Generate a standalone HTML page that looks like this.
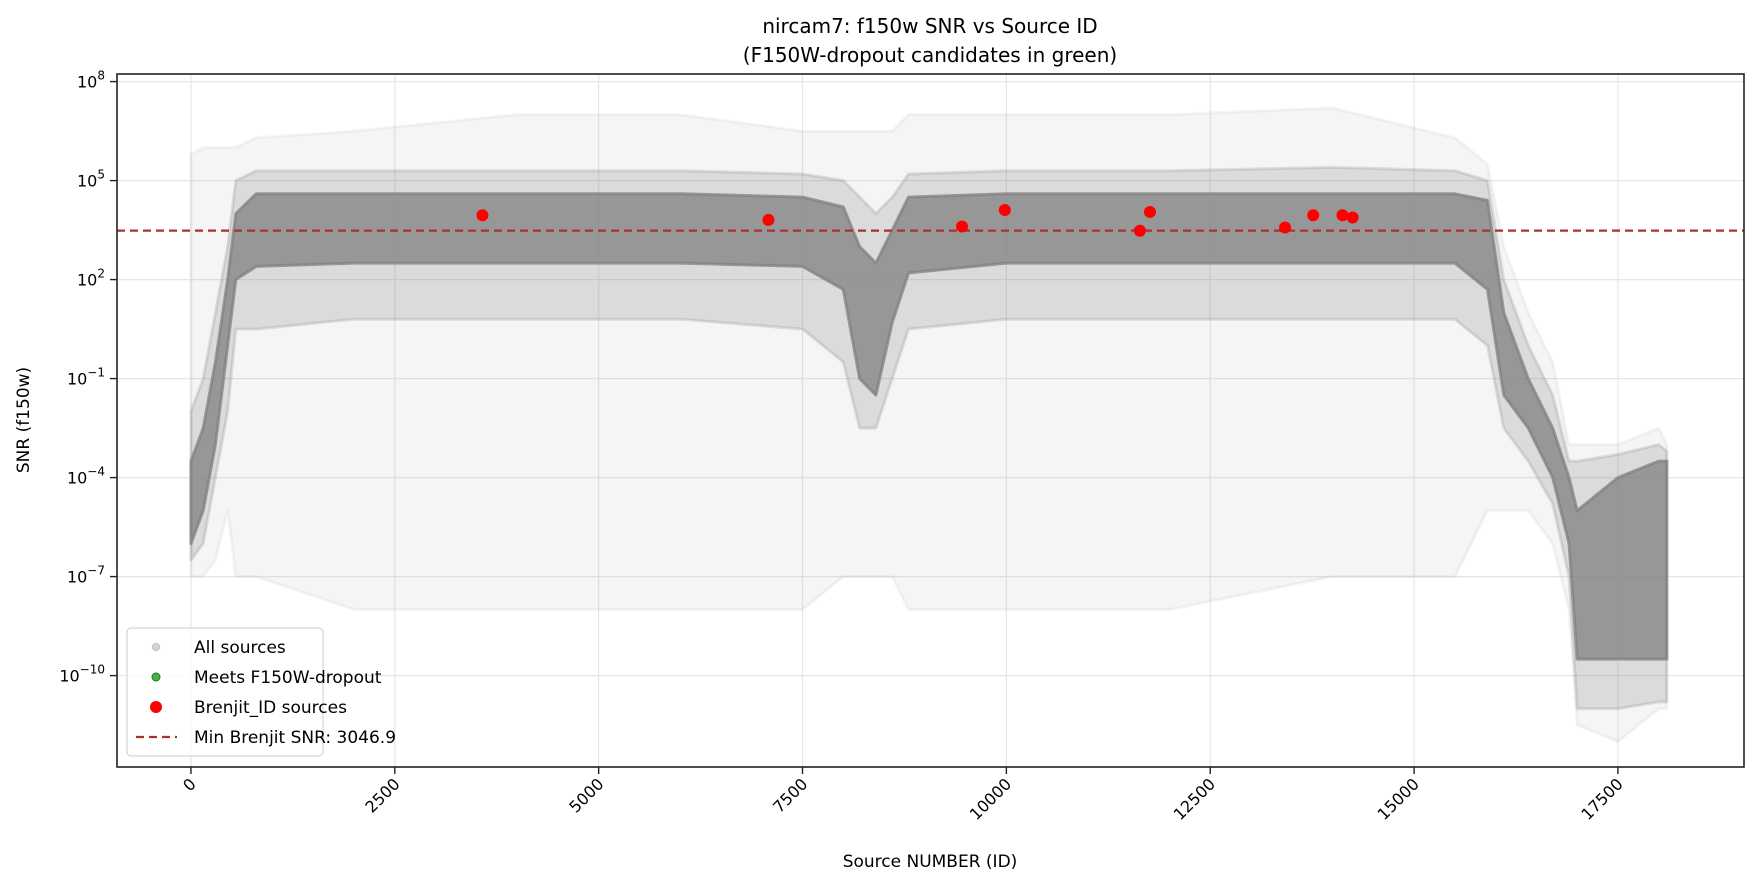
<!DOCTYPE html>
<html><head><meta charset="utf-8"><style>
body{margin:0;background:#fff}
svg text{font-family:"DejaVu Sans","Liberation Sans",sans-serif;fill:#000}
</style></head><body>
<svg id="chart" width="1759" height="886" xmlns="http://www.w3.org/2000/svg">
<text x="930" y="33" font-size="20" text-anchor="middle">nircam7: f150w SNR vs Source ID</text>
<text x="930" y="62" font-size="20" text-anchor="middle">(F150W-dropout candidates in green)</text>
<g id="grid"></g>
<g id="bands"></g>
<g id="marks"></g>
<rect x="117" y="74" width="1627" height="693" fill="none" stroke="#222" stroke-width="1.6"/>
<g id="axes"></g>
<text x="930" y="867" font-size="17" text-anchor="middle">Source NUMBER (ID)</text>
<text transform="translate(29,420) rotate(-90)" font-size="17" text-anchor="middle">SNR (f150w)</text>
<g>
<rect x="127" y="628" width="196" height="128" rx="4" fill="#fff" fill-opacity="0.8" stroke="#ccc"/>
<circle cx="156" cy="647" r="3.8" fill="#808080" fill-opacity="0.35" stroke="#808080" stroke-opacity="0.35"/>
<text x="194" y="653" font-size="17">All sources</text>
<circle cx="156" cy="677" r="4" fill="#2ca02c" fill-opacity="0.85" stroke="#1a7a1a"/>
<text x="194" y="683" font-size="17">Meets F150W-dropout</text>
<circle cx="156" cy="707" r="6" fill="#ff0000"/>
<text x="194" y="713" font-size="17">Brenjit_ID sources</text>
<line x1="136" y1="737" x2="177" y2="737" stroke="#a83232" stroke-width="2.2" stroke-dasharray="8,5"/>
<text x="194" y="743" font-size="17">Min Brenjit SNR: 3046.9</text>
</g>
</svg>
<script>
const xTicks=[0,2500,5000,7500,10000,12500,15000,17500];
const yTickExp=[8,5,2,-1,-4,-7,-10];
const binX=[0,150,300,450,550,800,2000,4000,6000,7500,8000,8200,8400,8600,8800,10000,12000,14000,15500,15900,16100,16400,16700,16900,17000,17500,18000,18100];
const coreHi=[-3.5,-2.5,-0.5,2,4,4.6,4.6,4.6,4.6,4.5,4.2,3,2.5,3.5,4.5,4.6,4.6,4.6,4.6,4.4,1,-1,-2.5,-4,-5,-4,-3.5,-3.5];
const coreLo=[-6,-5,-3,0,2,2.4,2.5,2.5,2.5,2.4,1.7,-1,-1.5,0.7,2.2,2.5,2.5,2.5,2.5,1.7,-1.5,-2.5,-4,-6,-9.5,-9.5,-9.5,-9.5];
const midHi=[-2,-1,1,3,5,5.3,5.3,5.3,5.3,5.2,5,4.5,4,4.5,5.2,5.3,5.3,5.4,5.3,5,2,0,-1.5,-3.5,-3.5,-3.3,-3,-3.2];
const midLo=[-6.5,-6,-4,-2,0.5,0.5,0.8,0.8,0.8,0.5,-0.5,-2.5,-2.5,-1,0.5,0.8,0.8,0.8,0.8,0,-2.5,-3.5,-4.8,-7,-11,-11,-10.8,-10.8];
const spreadHi=[5.8,6,6,6,6,6.3,6.5,7,7,6.5,6.5,6.5,6.5,6.5,7,7,7,7.2,6.3,5.5,3,1,-0.5,-3,-3,-3,-2.5,-3];
const spreadLo=[-7,-7,-6.5,-5,-7,-7,-8,-8,-8,-8,-7,-7,-7,-7,-8,-8,-8,-7,-7,-5,-5,-5,-6,-8,-11.5,-12,-11,-11];
const brenjitIds=[3575,7082,9456,9981,11637,11761,13418,13763,14122,14246];
const brenjitLogSnr=[3.95,3.81,3.61,4.11,3.48,4.05,3.58,3.95,3.95,3.88];
const minSnr=3046.9;

const NS="http://www.w3.org/2000/svg";
const X0=117,X1=1744,Y0=74,Y1=767;
const xMin=-907,xMax=19046,lMin=-12.77,lMax=8.23;
const xs=v=>X0+(v-xMin)/(xMax-xMin)*(X1-X0);
const ys=l=>Y1-(l-lMin)/(lMax-lMin)*(Y1-Y0);
function mk(tag,attrs,parent){const e=document.createElementNS(NS,tag);for(const k in attrs)e.setAttribute(k,attrs[k]);parent.appendChild(e);return e;}
const grid=document.getElementById('grid'),axes=document.getElementById('axes'),bands=document.getElementById('bands'),marks=document.getElementById('marks');
xTicks.forEach(t=>{const x=xs(t);
 const g=mk('line',{x1:x,x2:x,y1:Y0,y2:Y1,stroke:'#e6e6e6','stroke-width':1.2},grid);
 
 const tk=mk('line',{x1:x,x2:x,y1:Y1,y2:Y1+7,stroke:'#222','stroke-width':1.4},axes);
 
 const tx=mk('text',{transform:`translate(${x+6},${Y1+18}) rotate(-45)`,'font-size':16,'text-anchor':'end'},axes);
 tx.textContent=t;});
yTickExp.forEach(e=>{const y=ys(e);
 const g=mk('line',{x1:X0,x2:X1,y1:y,y2:y,stroke:'#e6e6e6','stroke-width':1.2},grid);
 
 const tk=mk('line',{x1:X0-7,x2:X0,y1:y,y2:y,stroke:'#222','stroke-width':1.4},axes);
 
 const tx=mk('text',{x:X0-12,y:y+6,'font-size':16,'text-anchor':'end'},axes);
 
 const b=mk('tspan',{},tx);b.textContent='10';
 const s=mk('tspan',{dy:-8,'font-size':12},tx);s.textContent=e<0?'\u2212'+(-e):String(e);});
function band(hi,lo,op,name){let p=binX.map((v,i)=>xs(v)+','+ys(hi[i]));
 for(let i=binX.length-1;i>=0;i--)p.push(xs(binX[i])+','+ys(lo[i]));
 const e=mk('polygon',{points:p.join(' '),fill:'#808080','fill-opacity':op,stroke:'#808080','stroke-opacity':op,'stroke-width':3,'stroke-linejoin':'round'},bands);
 }
band(spreadHi,spreadLo,0.08,'sparse-sources-band');
band(midHi,midLo,0.22,'medium-sources-band');
band(coreHi,coreLo,0.75,'dense-sources-band');
const ml=mk('line',{x1:X0,x2:X1,y1:ys(Math.log10(minSnr)),y2:ys(Math.log10(minSnr)),stroke:'#a83232','stroke-width':2.2,'stroke-dasharray':'8,5'},marks);

brenjitIds.forEach((id,i)=>{const c=mk('circle',{cx:xs(id),cy:ys(brenjitLogSnr[i]),r:6,fill:'#ff0000'},marks);
 });
</script>
</body></html>
